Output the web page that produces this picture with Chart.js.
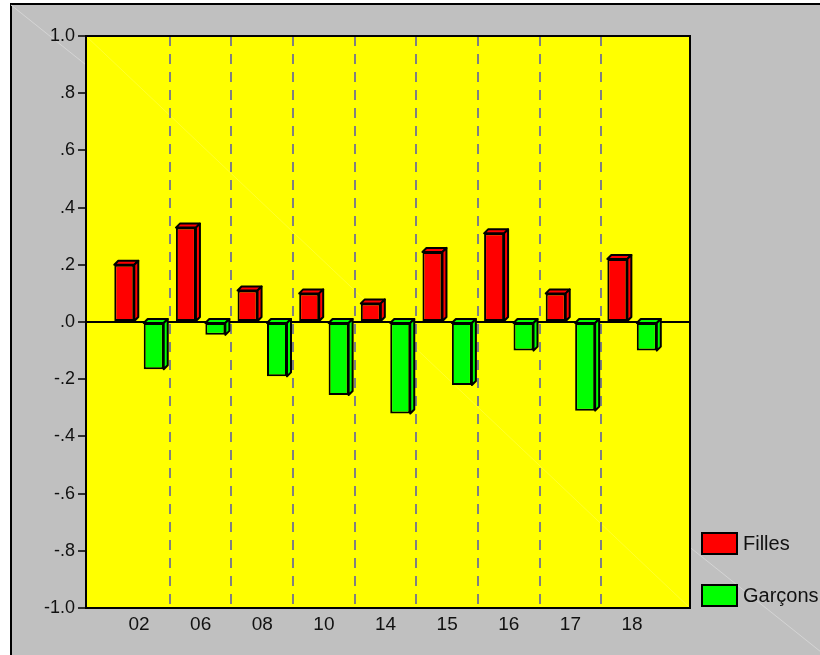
<!DOCTYPE html>
<html>
<head>
<meta charset="utf-8">
<script src="https://cdn.jsdelivr.net/npm/chart.js@4/dist/chart.umd.min.js"></script>
<style>
  html, body { margin: 0; padding: 0; background: #fff; overflow: hidden; }
  #frame { position: absolute; left: 10px; top: 3px; width: 830px; height: 660px;
           border: 2px solid #000; background: #c0c0c0; }
  #chart { position: absolute; left: 0; top: 0; }
</style>
</head>
<body>
<div id="frame"></div>
<canvas id="chart" width="820" height="655"></canvas>
<script>
'use strict';

const categories = ['02', '06', '08', '10', '14', '15', '16', '17', '18'];
const filles = [0.20, 0.33, 0.11, 0.10, 0.065, 0.245, 0.31, 0.10, 0.22];
const garcons = [-0.165, -0.045, -0.19, -0.255, -0.32, -0.22, -0.10, -0.31, -0.10];
const yMin = -1.0;
const yMax = 1.0;
const yStep = 0.2;

const FONT = "'Liberation Sans', Arial, sans-serif";
const DEPTH = 4; // profondeur de l'effet 3D

// Format des graduations : ".2", "-.4", "1.0"
function formatTick(v) {
    if (Math.abs(v) < 1e-9) v = 0;
    return v.toFixed(1).replace(/^(-?)0\./, '$1.');
}

// Fond jaune + diagonales pâles
const backgroundPlugin = {
    id: 'background',
    beforeDraw(chart) {
        const ctx = chart.ctx;
        const a = chart.chartArea;
        ctx.save();
        ctx.strokeStyle = '#d4d4d4';
        ctx.lineWidth = 1;
        ctx.beginPath();
        ctx.moveTo(11, 5);
        ctx.lineTo(831, 660);
        ctx.stroke();
        ctx.fillStyle = '#ffff00';
        ctx.fillRect(a.left, a.top, a.right - a.left, a.bottom - a.top);
        ctx.strokeStyle = 'rgba(255,255,255,0.18)';
        ctx.beginPath();
        ctx.moveTo(a.left, a.top);
        ctx.lineTo(a.right, a.bottom);
        ctx.stroke();
        ctx.restore();
    }
};

// Faces supérieure et latérale des barres
const bar3dPlugin = {
    id: 'bar3d',
    afterDatasetsDraw(chart) {
        const ctx = chart.ctx;
        chart.data.datasets.forEach((ds, di) => {
            chart.getDatasetMeta(di).data.forEach(bar => {
                const {x, y, base, width} = bar.getProps(['x', 'y', 'base', 'width'], true);
                const l = x - width / 2;
                const r = x + width / 2;
                const t = Math.min(y, base);
                const b = Math.max(y, base);
                ctx.save();
                ctx.fillStyle = ds.backgroundColor;
                ctx.strokeStyle = '#000';
                ctx.lineWidth = 2;
                ctx.lineJoin = 'round';
                ctx.beginPath();
                ctx.moveTo(l, t);
                ctx.lineTo(l + DEPTH, t - DEPTH);
                ctx.lineTo(r + DEPTH, t - DEPTH);
                ctx.lineTo(r, t);
                ctx.closePath();
                ctx.fill();
                ctx.stroke();
                ctx.beginPath();
                ctx.moveTo(r, t);
                ctx.lineTo(r + DEPTH, t - DEPTH);
                ctx.lineTo(r + DEPTH, b - DEPTH);
                ctx.lineTo(r, b);
                ctx.closePath();
                ctx.fill();
                ctx.stroke();
                ctx.restore();
            });
        });
    }
};

// Cadre de la zone de tracé et légende en bas à droite
const framePlugin = {
    id: 'frameLegend',
    afterDraw(chart) {
        const ctx = chart.ctx;
        const a = chart.chartArea;
        ctx.save();
        ctx.strokeStyle = '#000';
        ctx.lineWidth = 2;
        ctx.strokeRect(a.left, a.top, a.right - a.left, a.bottom - a.top);

        ctx.font = '20px ' + FONT;
        ctx.textBaseline = 'middle';
        chart.data.datasets.forEach((ds, i) => {
            const bx = a.right + 12;
            const by = a.bottom - 75 + i * 52;
            ctx.fillStyle = ds.backgroundColor;
            ctx.fillRect(bx, by, 35, 21);
            ctx.lineWidth = 2;
            ctx.strokeRect(bx, by, 35, 21);
            ctx.fillStyle = '#111';
            ctx.fillText(ds.label, bx + 41, by + 11);
        });
        ctx.restore();
    }
};

const chartConfig = {
    type: 'bar',
    data: {
        datasets: [{
            label: 'Filles',
            data: filles.map((v, i) => ({x: i, y: v})),
            backgroundColor: '#ff0000',
            borderColor: '#000',
            borderWidth: 2,
            borderSkipped: false,
            categoryPercentage: 0.955,
            barPercentage: 0.68
        }, {
            label: 'Garçons',
            data: garcons.map((v, i) => ({x: i, y: v})),
            backgroundColor: '#00ff00',
            borderColor: '#000',
            borderWidth: 2,
            borderSkipped: false,
            categoryPercentage: 0.955,
            barPercentage: 0.68
        }]
    },
    options: {
        responsive: false,
        animation: false,
        layout: {padding: {top: 36, right: 130, bottom: 0, left: 0}},
        plugins: {
            legend: {display: false},
            tooltip: {enabled: false}
        },
        scales: {
            x: {
                type: 'linear',
                offset: false,
                min: -0.86,
                max: 8.94,
                afterBuildTicks: scale => {
                    scale.ticks = categories.map((c, i) => ({value: i}));
                },
                afterFit: scale => { scale.height = 47; },
                ticks: {
                    autoSkip: false,
                    maxRotation: 0,
                    padding: 5,
                    color: '#111',
                    font: {family: FONT, size: 19},
                    callback: v => categories[v] ?? ''
                },
                grid: {
                    offset: true,
                    drawTicks: false,
                    lineWidth: 2,
                    // lignes pointillées seulement entre les catégories
                    color: c => (c.type === 'tick' && c.index > 0) ? '#808080' : 'rgba(0,0,0,0)'
                },
                border: {color: '#000', width: 2, dash: [10, 8]}
            },
            y: {
                min: yMin,
                max: yMax,
                afterFit: scale => { scale.width = 86; },
                ticks: {
                    stepSize: yStep,
                    padding: 3,
                    color: '#111',
                    font: {family: FONT, size: 18},
                    callback: v => formatTick(v)
                },
                grid: {
                    lineWidth: 2,
                    color: c => Math.abs(c.tick.value) < 1e-9 ? '#000' : 'rgba(0,0,0,0)',
                    tickColor: '#000',
                    tickLength: 8,
                    tickWidth: 1.5
                },
                border: {color: '#000', width: 2}
            }
        }
    },
    plugins: [backgroundPlugin, bar3dPlugin, framePlugin]
};

new Chart(document.getElementById('chart'), chartConfig);
</script>
</body>
</html>
